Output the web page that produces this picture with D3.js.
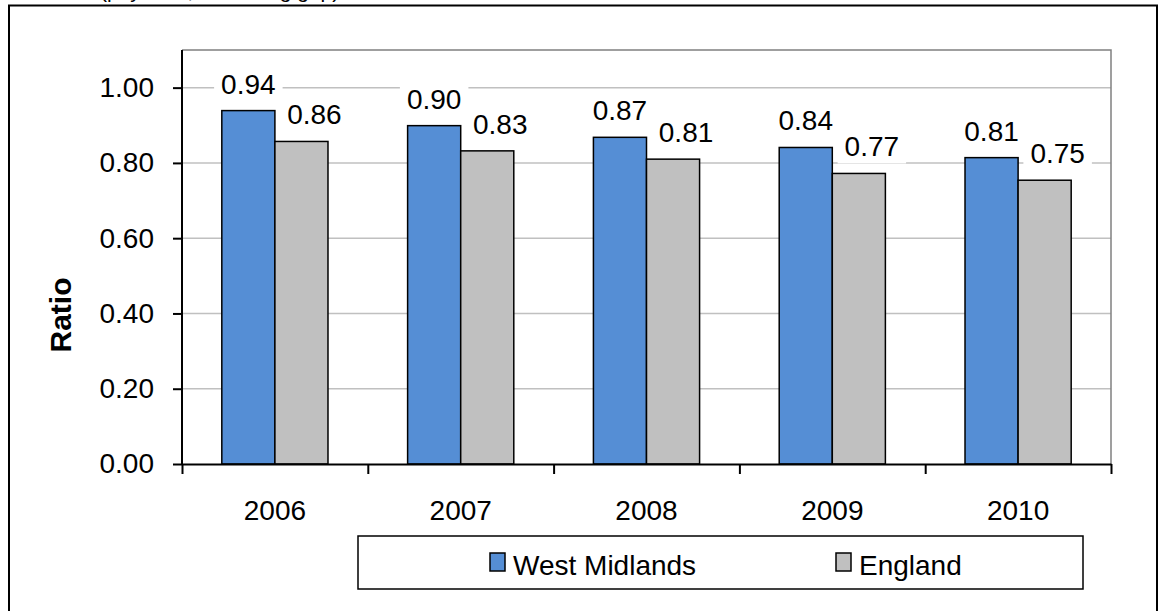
<!DOCTYPE html>
<html>
 <head>
  <meta charset="UTF-8">
  <title>Ratio</title>
  <style>
    body { margin: 0; background: #fff; }
    text { font-family: "Liberation Sans", Arial, sans-serif; fill: #000; }
  </style>
 </head>
 <body>
<div id="viz-wrapper">
</div>
 <script src="https://d3js.org/d3.v7.min.js" charset="utf-8"></script>
 <script type="text/javascript">
    // chart values
    var years = ['2006', '2007', '2008', '2009', '2010'];
    var seriesNames = ['West Midlands', 'England'];
    var westMidlands = [0.939, 0.899, 0.868, 0.841, 0.814];
    var england = [0.857, 0.832, 0.810, 0.772, 0.754];
    var yTicks = [0, 0.2, 0.4, 0.6, 0.8, 1.0];

    var colors = ['#558ed5', '#c0c0c0'];

    // size of the svg and the plot area
    var width = 1161,
        height = 611;
    var plot = {left: 182, right: 1111, top: 50, bottom: 464};

    var viz = d3.select('#viz-wrapper')
                .append('svg')
                .attr('width', width)
                .attr('height', height);

    // outer chart frame, runs off the bottom of the picture
    viz.append('rect')
       .attr('x', 9).attr('y', 5.5)
       .attr('width', 1148).attr('height', 640)
       .style('fill', '#fff')
       .style('stroke', '#000')
       .style('stroke-width', 2);

    // subtitle line, mostly cut off at the top
    viz.append('text')
       .attr('x', 100).attr('y', -2)
       .style('font-size', '21px')
       .text('(pay ratio, narrowing gap)');

    // scales
    var x0 = d3.scaleBand()
               .domain(years)
               .range([plot.left, plot.right])
               .padding(0);
    var x1 = d3.scaleBand()
               .domain(seriesNames)
               .range([0, x0.bandwidth()])
               .paddingInner(0)
               .paddingOuter(0.75);
    var y = d3.scaleLinear()
              .domain([0, 1.1])
              .range([plot.bottom, plot.top]);

    // gridlines
    viz.append('g')
       .selectAll('line')
       .data(yTicks.slice(1))
       .enter()
       .append('line')
       .attr('x1', plot.left).attr('x2', plot.right)
       .attr('y1', function(d) { return y(d); })
       .attr('y2', function(d) { return y(d); })
       .style('stroke', '#c0c0c0')
       .style('stroke-width', 1.5);

    // grey top and right border of the plot area
    viz.append('path')
       .attr('d', 'M' + plot.left + ',' + plot.top + 'H' + plot.right + 'V' + plot.bottom)
       .style('fill', 'none')
       .style('stroke', '#808080')
       .style('stroke-width', 1.5);

    // bars
    var rows = years.map(function(yr, i) {
        return {year: yr, values: [westMidlands[i], england[i]]};
    });

    var groups = viz.append('g')
                    .selectAll('g')
                    .data(rows)
                    .enter()
                    .append('g')
                    .attr('transform', function(d) { return 'translate(' + x0(d.year) + ',0)'; });

    groups.selectAll('rect')
          .data(function(d) { return d.values.map(function(v, k) { return {name: seriesNames[k], k: k, v: v}; }); })
          .enter()
          .append('rect')
          .attr('x', function(d) { return x1(d.name); })
          .attr('y', function(d) { return y(d.v); })
          .attr('width', x1.bandwidth())
          .attr('height', function(d) { return y(0) - y(d.v); })
          .style('fill', function(d) { return colors[d.k]; })
          .style('stroke', '#000')
          .style('stroke-width', 1.5);

    // y axis
    var yAxis = d3.axisLeft(y)
                  .tickValues(yTicks)
                  .tickFormat(d3.format('.2f'))
                  .tickSize(9)
                  .tickSizeOuter(0)
                  .tickPadding(19);
    var yg = viz.append('g')
                .attr('transform', 'translate(' + plot.left + ',0)')
                .call(yAxis);
    yg.select('.domain').attr('d', 'M0,' + plot.top + 'V' + plot.bottom).style('stroke-width', 2);
    yg.selectAll('line').style('stroke-width', 2);
    yg.selectAll('text').style('font-size', '28px').style('font-family', '"Liberation Sans", Arial, sans-serif');

    // x axis: ticks between categories
    var xTickScale = d3.scaleLinear().domain([0, years.length]).range([plot.left, plot.right]);
    var xTicks = viz.append('g')
                    .attr('transform', 'translate(0,' + plot.bottom + ')')
                    .call(d3.axisBottom(xTickScale).ticks(years.length).tickFormat('').tickSize(10).tickSizeOuter(0));
    xTicks.select('.domain').style('stroke-width', 2);
    xTicks.selectAll('line').style('stroke-width', 2);

    // x axis: category labels
    var xLabels = viz.append('g')
                     .attr('transform', 'translate(0,' + plot.bottom + ')')
                     .call(d3.axisBottom(x0).tickSize(0).tickPadding(36));
    xLabels.select('.domain').remove();
    xLabels.selectAll('text').style('font-size', '28px').style('font-family', '"Liberation Sans", Arial, sans-serif');

    // axis title
    viz.append('text')
       .attr('transform', 'translate(71,315) rotate(-90)')
       .attr('text-anchor', 'middle')
       .style('font-size', '30px')
       .style('font-weight', 'bold')
       .text('Ratio');

    // value labels with white boxes behind them
    var labels = groups.selectAll('g.lbl')
          .data(function(d) { return d.values.map(function(v, k) { return {name: seriesNames[k], k: k, v: v}; }); })
          .enter()
          .append('g')
          .attr('class', 'lbl');

    labels.append('rect').style('fill', '#fff');
    labels.append('text')
          .attr('text-anchor', 'middle')
          .attr('x', function(d) { return x1(d.name) + x1.bandwidth() / 2 + (d.k === 1 ? 13 : 0); })
          .attr('y', function(d) { return y(d.v) - 17; })
          .style('font-size', '28px')
          .text(function(d) { return d3.format('.2f')(d.v); });
    labels.each(function() {
        var g = d3.select(this);
        var b = g.select('text').node().getBBox();
        g.select('rect')
         .attr('x', b.x - 7).attr('y', b.y - 2)
         .attr('width', b.width + 14).attr('height', b.height + 3);
    });

    // legend
    var legend = viz.append('g');
    legend.append('rect')
          .attr('x', 358).attr('y', 536)
          .attr('width', 725).attr('height', 53)
          .style('fill', '#fff')
          .style('stroke', '#000')
          .style('stroke-width', 1.5);
    var legendX = [490, 836];
    var items = legend.selectAll('g')
                      .data(seriesNames)
                      .enter()
                      .append('g')
                      .attr('transform', function(d, i) { return 'translate(' + legendX[i] + ',553)'; });
    items.append('rect')
         .attr('width', 15).attr('height', 18)
         .style('fill', function(d, i) { return colors[i]; })
         .style('stroke', '#000')
         .style('stroke-width', 1.5);
    items.append('text')
         .attr('x', 23).attr('y', 22)
         .style('font-size', '28px')
         .text(function(d) { return d; });
 </script>
 </body>
</html>
